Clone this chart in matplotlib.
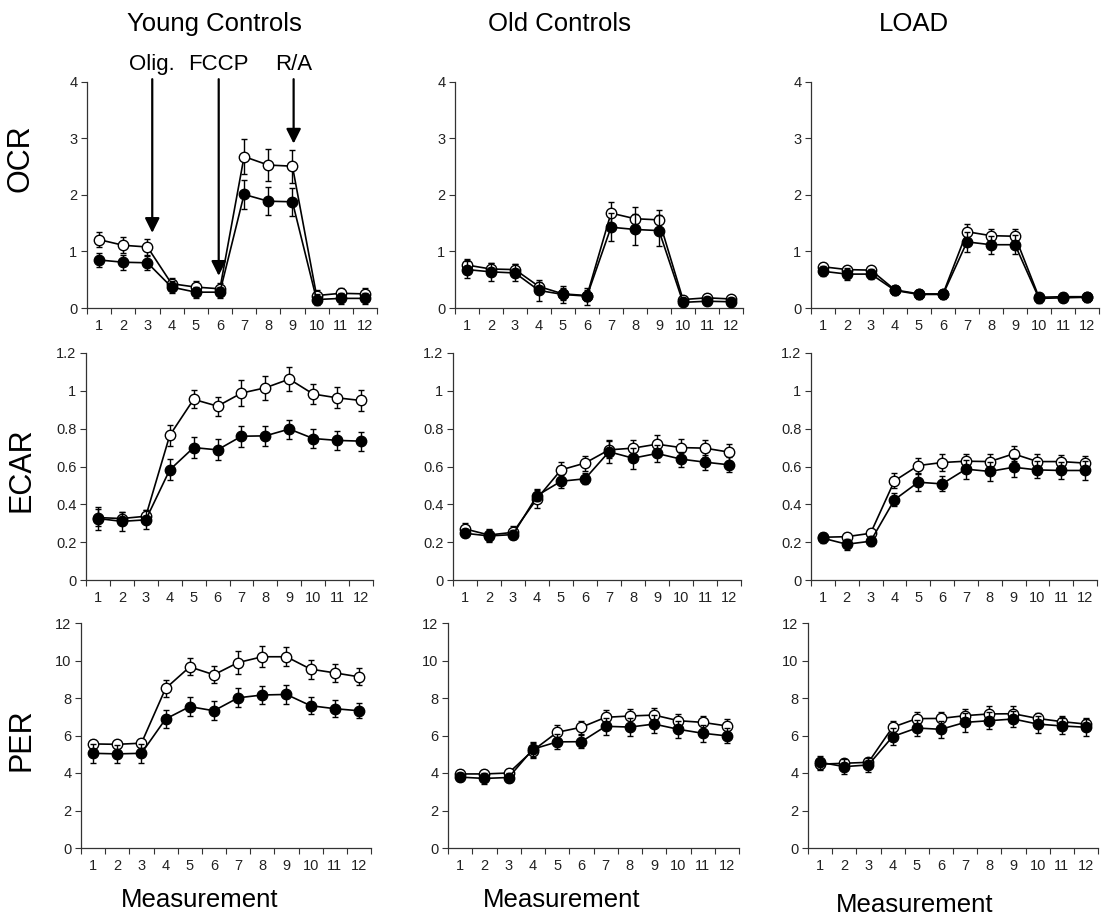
import matplotlib
matplotlib.use("Agg")
import matplotlib.pyplot as plt
import numpy as np

plt.rcParams['font.family'] = ['Liberation Sans', 'DejaVu Sans']

measurements = list(range(1, 13))
groups = ["Young Controls", "Old Controls", "LOAD"]
metrics = ["OCR", "ECAR", "PER"]

# ---- OCR ----
ocr_young_open = [1.21, 1.11, 1.08, 0.43, 0.37, 0.34, 2.68, 2.53, 2.51, 0.22, 0.26, 0.25]
ocr_young_open_err = [0.13, 0.14, 0.14, 0.10, 0.10, 0.10, 0.31, 0.29, 0.29, 0.10, 0.10, 0.10]
ocr_young_fill = [0.85, 0.81, 0.80, 0.37, 0.28, 0.28, 2.01, 1.89, 1.88, 0.15, 0.17, 0.17]
ocr_young_fill_err = [0.12, 0.13, 0.12, 0.10, 0.10, 0.10, 0.26, 0.25, 0.25, 0.10, 0.10, 0.10]

ocr_old_open = [0.76, 0.69, 0.68, 0.38, 0.25, 0.22, 1.68, 1.58, 1.56, 0.15, 0.18, 0.16]
ocr_old_open_err = [0.10, 0.10, 0.09, 0.08, 0.10, 0.10, 0.20, 0.20, 0.18, 0.06, 0.06, 0.06]
ocr_old_fill = [0.68, 0.64, 0.62, 0.31, 0.24, 0.21, 1.43, 1.39, 1.37, 0.10, 0.12, 0.11]
ocr_old_fill_err = [0.15, 0.16, 0.15, 0.18, 0.15, 0.15, 0.25, 0.28, 0.27, 0.07, 0.07, 0.07]

ocr_load_open = [0.73, 0.68, 0.67, 0.32, 0.25, 0.25, 1.35, 1.28, 1.27, 0.19, 0.20, 0.20]
ocr_load_open_err = [0.06, 0.06, 0.06, 0.06, 0.07, 0.07, 0.14, 0.12, 0.13, 0.06, 0.06, 0.06]
ocr_load_fill = [0.65, 0.60, 0.60, 0.31, 0.24, 0.24, 1.17, 1.12, 1.12, 0.17, 0.18, 0.19]
ocr_load_fill_err = [0.09, 0.10, 0.09, 0.08, 0.08, 0.08, 0.18, 0.16, 0.17, 0.08, 0.08, 0.08]

# ---- ECAR ----
ecar_young_open = [0.330, 0.325, 0.337, 0.764, 0.955, 0.919, 0.988, 1.016, 1.062, 0.983, 0.963, 0.949]
ecar_young_open_err = [0.044, 0.035, 0.035, 0.053, 0.047, 0.050, 0.070, 0.065, 0.062, 0.053, 0.055, 0.053]
ecar_young_fill = [0.325, 0.310, 0.318, 0.582, 0.700, 0.688, 0.760, 0.762, 0.798, 0.748, 0.738, 0.734]
ecar_young_fill_err = [0.060, 0.050, 0.050, 0.056, 0.056, 0.055, 0.055, 0.052, 0.050, 0.050, 0.050, 0.050]

ecar_old_open = [0.270, 0.238, 0.252, 0.430, 0.582, 0.618, 0.688, 0.697, 0.718, 0.700, 0.697, 0.676]
ecar_old_open_err = [0.030, 0.030, 0.035, 0.050, 0.040, 0.040, 0.045, 0.045, 0.050, 0.045, 0.045, 0.045]
ecar_old_fill = [0.247, 0.233, 0.240, 0.446, 0.522, 0.535, 0.678, 0.644, 0.669, 0.639, 0.623, 0.609]
ecar_old_fill_err = [0.020, 0.030, 0.025, 0.030, 0.035, 0.030, 0.060, 0.055, 0.045, 0.040, 0.040, 0.040]

ecar_load_open = [0.226, 0.229, 0.247, 0.524, 0.605, 0.621, 0.628, 0.626, 0.667, 0.626, 0.626, 0.618]
ecar_load_open_err = [0.020, 0.020, 0.020, 0.040, 0.040, 0.045, 0.040, 0.040, 0.040, 0.040, 0.035, 0.035]
ecar_load_fill = [0.221, 0.189, 0.205, 0.424, 0.517, 0.508, 0.586, 0.574, 0.596, 0.582, 0.579, 0.579]
ecar_load_fill_err = [0.025, 0.030, 0.025, 0.035, 0.045, 0.040, 0.050, 0.050, 0.050, 0.045, 0.045, 0.050]

# ---- PER ----
per_young_open = [5.55, 5.53, 5.59, 8.51, 9.66, 9.24, 9.89, 10.20, 10.20, 9.54, 9.34, 9.13]
per_young_open_err = [0.20, 0.20, 0.20, 0.45, 0.45, 0.45, 0.60, 0.55, 0.50, 0.50, 0.50, 0.45]
per_young_fill = [5.05, 5.02, 5.05, 6.88, 7.54, 7.32, 8.01, 8.16, 8.19, 7.59, 7.43, 7.32]
per_young_fill_err = [0.50, 0.50, 0.50, 0.50, 0.50, 0.50, 0.50, 0.50, 0.50, 0.45, 0.45, 0.40]

per_old_open = [3.95, 3.95, 4.00, 5.20, 6.17, 6.44, 6.97, 7.04, 7.09, 6.79, 6.70, 6.51]
per_old_open_err = [0.20, 0.20, 0.20, 0.40, 0.40, 0.35, 0.40, 0.40, 0.40, 0.35, 0.35, 0.35]
per_old_fill = [3.78, 3.71, 3.76, 5.27, 5.66, 5.67, 6.49, 6.45, 6.61, 6.33, 6.12, 5.98]
per_old_fill_err = [0.20, 0.30, 0.25, 0.40, 0.40, 0.35, 0.45, 0.50, 0.50, 0.45, 0.45, 0.40]

per_load_open = [4.47, 4.52, 4.57, 6.44, 6.90, 6.91, 7.06, 7.15, 7.16, 6.91, 6.74, 6.61]
per_load_open_err = [0.30, 0.20, 0.20, 0.35, 0.35, 0.35, 0.35, 0.40, 0.40, 0.30, 0.30, 0.30]
per_load_fill = [4.57, 4.34, 4.43, 5.94, 6.40, 6.33, 6.70, 6.79, 6.88, 6.61, 6.51, 6.44]
per_load_fill_err = [0.35, 0.40, 0.35, 0.45, 0.45, 0.45, 0.50, 0.45, 0.45, 0.45, 0.45, 0.45]

ocr_ticks = [0, 1, 2, 3, 4]
ocr_ticklabels = ["0", "1", "2", "3", "4"]
ecar_ticks = [0, 0.2, 0.4, 0.6, 0.8, 1.0, 1.2]
ecar_ticklabels = ["0", "0.2", "0.4", "0.6", "0.8", "1", "1.2"]
per_ticks = [0, 2, 4, 6, 8, 10, 12]
per_ticklabels = ["0", "2", "4", "6", "8", "10", "12"]

injections = ["Olig.", "FCCP", "R/A"]
injection_x = [3.2, 5.95, 9.05]
injection_tip = [1.33, 0.57, 2.91]

panels = [
    [(ocr_young_open, ocr_young_open_err, ocr_young_fill, ocr_young_fill_err),
     (ocr_old_open, ocr_old_open_err, ocr_old_fill, ocr_old_fill_err),
     (ocr_load_open, ocr_load_open_err, ocr_load_fill, ocr_load_fill_err)],
    [(ecar_young_open, ecar_young_open_err, ecar_young_fill, ecar_young_fill_err),
     (ecar_old_open, ecar_old_open_err, ecar_old_fill, ecar_old_fill_err),
     (ecar_load_open, ecar_load_open_err, ecar_load_fill, ecar_load_fill_err)],
    [(per_young_open, per_young_open_err, per_young_fill, per_young_fill_err),
     (per_old_open, per_old_open_err, per_old_fill, per_old_fill_err),
     (per_load_open, per_load_open_err, per_load_fill, per_load_fill_err)],
]
yticks = [(ocr_ticks, ocr_ticklabels, 4), (ecar_ticks, ecar_ticklabels, 1.2), (per_ticks, per_ticklabels, 12)]

W, H = 1105, 923
fig = plt.figure(figsize=(W / 100, H / 100), dpi=100)

row_tb = [(82, 308), (353, 580), (623, 848)]
col_lr = [[(87, 377), (455, 743), (811, 1099)],
          [(86, 373), (453, 741), (811, 1097)],
          [(81, 371), (448, 739), (808, 1098)]]

axes = []
for r in range(3):
    for c in range(3):
        top, bot = row_tb[r]
        left, right = col_lr[r][c]
        ax = fig.add_axes([left / W, 1 - bot / H, (right - left) / W, (bot - top) / H])
        o, oe, f, fe = panels[r][c]
        ax.errorbar(measurements, o, yerr=oe, color='black', lw=1.2, marker='o', ms=7.5,
                    mfc='white', mec='black', mew=1.0, ecolor='black', elinewidth=1.0,
                    capsize=2, capthick=1.0, zorder=3)
        ax.errorbar(measurements, f, yerr=fe, color='black', lw=1.2, marker='o', ms=7.5,
                    mfc='black', mec='black', mew=1.0, ecolor='black', elinewidth=1.0,
                    capsize=2, capthick=1.0, zorder=4)
        tks, tls, ymax = yticks[r]
        ax.set_ylim(0, ymax)
        ax.set_yticks(tks)
        ax.set_yticklabels(tls)
        ax.set_xlim(0.5, 12.5)
        ax.set_xticks(np.arange(0.5, 13, 1))
        ax.set_xticklabels([])
        ax.set_xticks(measurements, minor=True)
        ax.set_xticklabels([str(m) for m in measurements], minor=True)
        ax.tick_params(axis='x', which='major', direction='out', length=4, width=0.8, color='#333333')
        ax.tick_params(axis='x', which='minor', length=0, pad=8, labelsize=10.5, labelcolor='#222222')
        ax.tick_params(axis='y', direction='out', length=4, width=0.8, color='#333333', pad=3,
                       labelsize=10.5, labelcolor='#222222')
        for s in ['top', 'right']:
            ax.spines[s].set_visible(False)
        for s in ['left', 'bottom']:
            ax.spines[s].set_color('#333333')
            ax.spines[s].set_linewidth(0.9)
        axes.append(ax)

# injection arrows on the first panel
ax0 = axes[0]
for name, xx, tip in zip(injections, injection_x, injection_tip):
    ax0.annotate('', xy=(xx, tip), xytext=(xx, 4.05), annotation_clip=False,
                 arrowprops=dict(arrowstyle='-|>', color='black', lw=1.6,
                                 mutation_scale=22, shrinkA=0, shrinkB=0), zorder=6)
    ax0.text(xx, 4.12, name, ha='center', va='bottom', fontsize=16, clip_on=False)

# column titles
title_x = [214, 560, 914]
for g, tx in zip(groups, title_x):
    fig.text(tx / W, 1 - 24 / H, g, ha='center', va='center', fontsize=18.5)

# row labels
row_y = [158, 470, 740]
for m, ry in zip(metrics, row_y):
    fig.text(21 / W, 1 - ry / H, m, ha='center', va='center', rotation=90, fontsize=22)

# x labels
meas_xy = [(200, 900), (562, 900), (915, 905)]
for mx, my in meas_xy:
    fig.text(mx / W, 1 - my / H, "Measurement", ha='center', va='center', fontsize=18.5)

fig.savefig("out.png", dpi=100)
